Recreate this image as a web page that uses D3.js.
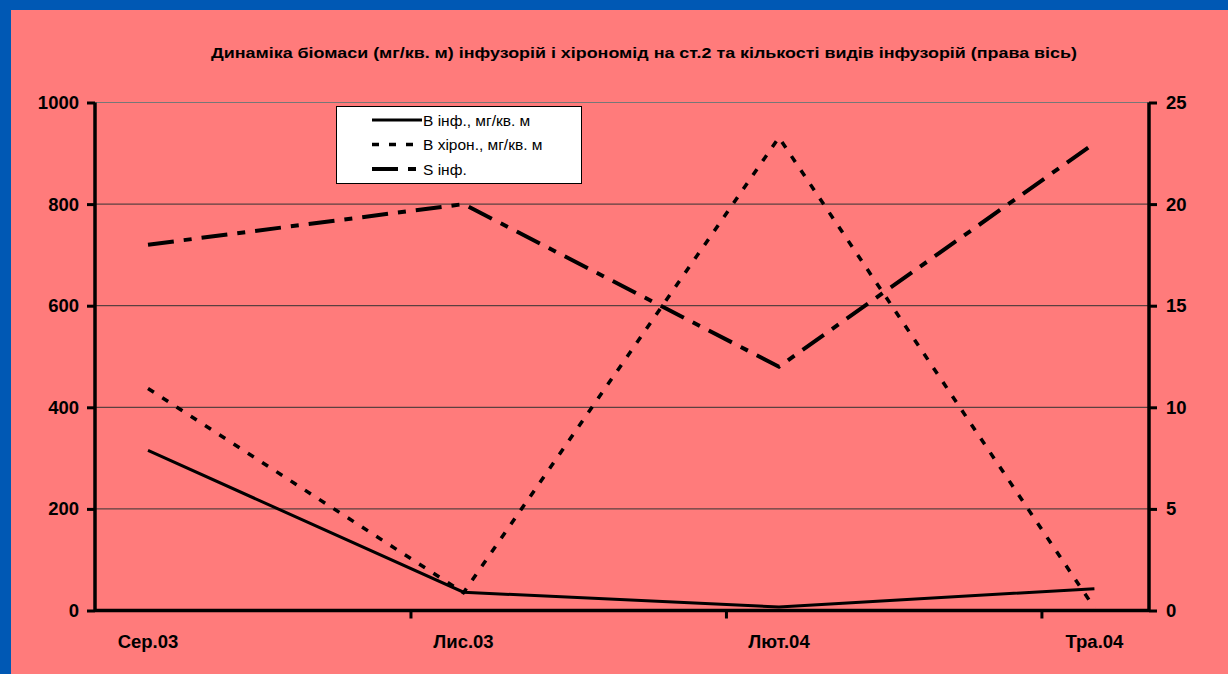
<!DOCTYPE html>
<html><head><meta charset="utf-8">
<script src="https://cdn.jsdelivr.net/npm/d3@7"></script>
<style>html,body{margin:0;padding:0;background:#0058b4;}svg{display:block}</style>
</head><body>
<svg id="c" width="1228" height="674"></svg>
<script>
const title = "Динаміка біомаси (мг/кв. м) інфузорій і хірономід на ст.2 та кількості видів інфузорій (права вісь)";
const categories = ["Сер.03", "Лис.03", "Лют.04", "Тра.04"];
const bInf = [315, 36, 7, 43];
const bHiron = [437, 35, 931, 5];
const sInf = [18, 20, 12, 23];
const leftTicks = [0, 200, 400, 600, 800, 1000];
const rightTicks = [0, 5, 10, 15, 20, 25];
const seriesNames = ["В інф., мг/кв. м", "В хірон., мг/кв. м", "S інф."];

const svg = d3.select("#c");
const W = 1228, H = 674;
svg.append("rect").attr("x",0).attr("y",0).attr("width",W).attr("height",H).attr("fill","#0058b4");
svg.append("rect").attr("x",11).attr("y",10).attr("width",W-11).attr("height",H-10).attr("fill","#ff7b7b");

const L = 95, R = 1149, T = 102.5, B = 610.5;
const x = d3.scaleLinear().domain([-0.168, 3.173]).range([L, R]);
const yL = d3.scaleLinear().domain([0, 1000]).range([B, T]);
const yR = d3.scaleLinear().domain([0, 25]).range([B, T]);
const font = "'Liberation Sans', Arial, sans-serif";

svg.append("text").attr("x", 211).attr("y", 58)
  .attr("font-family", font).attr("font-weight","bold").attr("font-size", 15.5)
  .attr("textLength", 866).attr("lengthAdjust","spacingAndGlyphs")
  .attr("fill","#000").text(title);

// gridlines
svg.append("g").selectAll("line").data(leftTicks.filter(d=>d>0)).join("line")
  .attr("x1", L).attr("x2", R).attr("y1", d=>yL(d)).attr("y2", d=>yL(d))
  .attr("stroke", d=> d===1000 ? "#777" : "#333").attr("stroke-width",1);

const gl = svg.append("g").attr("transform",`translate(${L},0)`)
  .call(d3.axisLeft(yL).tickValues(leftTicks).tickFormat(d3.format("d")).tickSize(8).tickPadding(8));
const gr = svg.append("g").attr("transform",`translate(${R},0)`)
  .call(d3.axisRight(yR).tickValues(rightTicks).tickFormat(d3.format("d")).tickSize(8).tickPadding(9));
const xTickVals = [0,1,2].map(i => i + 1 - 0.168);
const gx = svg.append("g").attr("transform",`translate(0,${B})`)
  .call(d3.axisBottom(x).tickValues(xTickVals).tickSize(8).tickFormat(""));
[gl, gr, gx].forEach(g => {
  g.select(".domain").attr("stroke","#000").attr("stroke-width",3.5);
  g.selectAll(".tick line").attr("stroke","#000").attr("stroke-width",3);
  g.selectAll("text").attr("font-family", font).attr("font-weight","bold")
    .attr("font-size", 18.5).attr("fill","#000");
});
gx.select(".domain").attr("d", `M${L},0H${R}`);
gl.select(".domain").attr("d", `M0,${B}V${T}`);
gr.select(".domain").attr("d", `M0,${B}V${T}`);

svg.append("g").selectAll("text").data(categories).join("text")
  .attr("x", (d,i)=>x(i)).attr("y", 648).attr("text-anchor","middle")
  .attr("font-family", font).attr("font-weight","bold").attr("font-size",18.5)
  .attr("fill","#000").text(d=>d);

const lineL = d3.line().x((d,i)=>x(i)).y(d=>yL(d));
const lineR = d3.line().x((d,i)=>x(i)).y(d=>yR(d));

svg.append("path").attr("d", lineL(bHiron)).attr("fill","none")
  .attr("stroke","#000").attr("stroke-width",3.5).attr("stroke-dasharray","7,10");
svg.append("path").attr("d", lineR(sInf)).attr("fill","none")
  .attr("stroke","#000").attr("stroke-width",4).attr("stroke-dasharray","26,10,8,10");
svg.append("path").attr("d", lineL(bInf)).attr("fill","none")
  .attr("stroke","#000").attr("stroke-width",3);

const lg = svg.append("g");
lg.append("rect").attr("x",336.5).attr("y",106.5).attr("width",245).attr("height",77)
  .attr("fill","#fff").attr("stroke","#000").attr("stroke-width",1);
const styles = [
  {w:3, dash:null},
  {w:3.5, dash:"7,10"},
  {w:4, dash:"26,10,8,10"}
];
seriesNames.forEach((n,i)=>{
  const yy = 120 + i*24.5;
  lg.append("line").attr("x1",372).attr("x2",422).attr("y1",yy).attr("y2",yy)
    .attr("stroke","#000").attr("stroke-width",styles[i].w)
    .attr("stroke-dasharray", styles[i].dash);
  lg.append("text").attr("x",423).attr("y",yy+5.5).attr("font-family",font)
    .attr("font-size",15.5).attr("fill","#000").text(n);
});
</script>
</body></html>
